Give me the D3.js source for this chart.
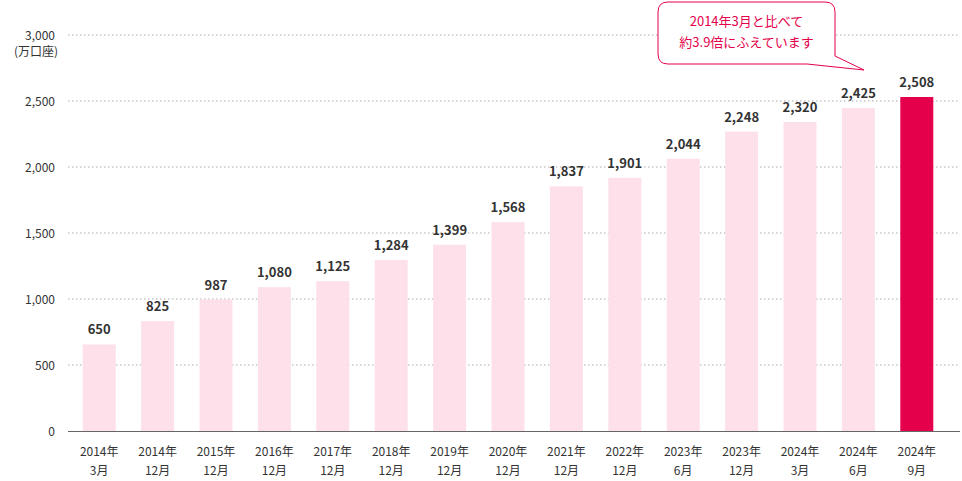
<!DOCTYPE html>
<html><head><meta charset="utf-8">
<script src="https://cdn.jsdelivr.net/npm/d3@7"></script>
<style>body{margin:0;background:#fff}svg{font-family:"Noto Sans CJK JP","Noto Sans",sans-serif}</style>
</head><body><svg id="c" width="962" height="481"></svg>
<script>
const yearLabels = ["2014年","2014年","2015年","2016年","2017年","2018年","2019年","2020年","2021年","2022年","2023年","2023年","2024年","2024年","2024年"];
const monthLabels = ["3月","12月","12月","12月","12月","12月","12月","12月","12月","12月","6月","12月","3月","6月","9月"];
const values = [650,825,987,1080,1125,1284,1399,1568,1837,1901,2044,2248,2320,2425,2508];
const yTicks = [0,500,1000,1500,2000,2500,3000];
const calloutLines = ["2014年3月と比べて","約3.9倍にふえています"];

const svg = d3.select("#c");
const idx = values.map((d,i)=>i);
const x = d3.scaleBand().domain(idx).range([70,946]).paddingInner(0.435).paddingOuter(0.2175);
const y = d3.scaleLinear().domain([0,3000]).range([431,35]);
const yb = d3.scaleLinear().domain([0,2508]).range([431,97]);

svg.append("g").selectAll("line").data(yTicks.filter(t=>t>0)).join("line")
  .attr("x1",68).attr("x2",960).attr("y1",d=>y(d)).attr("y2",d=>y(d))
  .attr("stroke","#aaa").attr("stroke-dasharray","1.5,2.5");
svg.append("line").attr("x1",68).attr("x2",960).attr("y1",y(0)+0.5).attr("y2",y(0)+0.5).attr("stroke","#666");

svg.append("g").selectAll("text").data(yTicks).join("text")
  .attr("x",55).attr("y",d=>y(d)+5).attr("text-anchor","end")
  .attr("font-size",12).attr("fill","#333").text(d=>d3.format(",")(d));
svg.append("text").attr("x",58).attr("y",56).attr("text-anchor","end").attr("font-size",12).attr("fill","#333").text("(万口座)");

svg.append("g").selectAll("rect").data(idx).join("rect")
  .attr("x",i=>x(i)).attr("width",x.bandwidth())
  .attr("y",i=>yb(values[i])).attr("height",i=>yb(0)-yb(values[i]))
  .attr("fill",i=>i===values.length-1?"#e4004b":"#fde0ea");

svg.append("g").selectAll("text").data(idx).join("text")
  .attr("x",i=>x(i)+x.bandwidth()/2).attr("y",i=>yb(values[i])-10)
  .attr("text-anchor","middle").attr("font-size",13).attr("font-weight","bold").attr("fill","#333")
  .text(i=>d3.format(",")(values[i]));

const xl = svg.append("g").selectAll("text").data(idx).join("text")
  .attr("text-anchor","middle").attr("font-size",12).attr("fill","#333");
xl.append("tspan").attr("x",i=>x(i)+x.bandwidth()/2).attr("y",456).text(i=>yearLabels[i]);
xl.append("tspan").attr("x",i=>x(i)+x.bandwidth()/2).attr("y",475).text(i=>monthLabels[i]);

// callout
const cx0=658, cy0=2, cw=177, ch=62, r=10;
const b=cy0+ch;
const p = `M${cx0+r},${cy0} H${cx0+cw-r} Q${cx0+cw},${cy0} ${cx0+cw},${cy0+r} V${b-8} L864,70 L${cx0+cw-28},${b} H${cx0+r} Q${cx0},${b} ${cx0},${b-r} V${cy0+r} Q${cx0},${cy0} ${cx0+r},${cy0} Z`;
svg.append("path").attr("d",p).attr("fill","#fff").attr("stroke","#e4004b").attr("stroke-width",1);
svg.append("g").selectAll("text").data(calloutLines).join("text")
  .attr("x",cx0+cw/2).attr("y",(d,i)=>26+i*21).attr("text-anchor","middle")
  .attr("font-size",13).attr("fill","#e4004b").text(d=>d);
</script></body></html>
